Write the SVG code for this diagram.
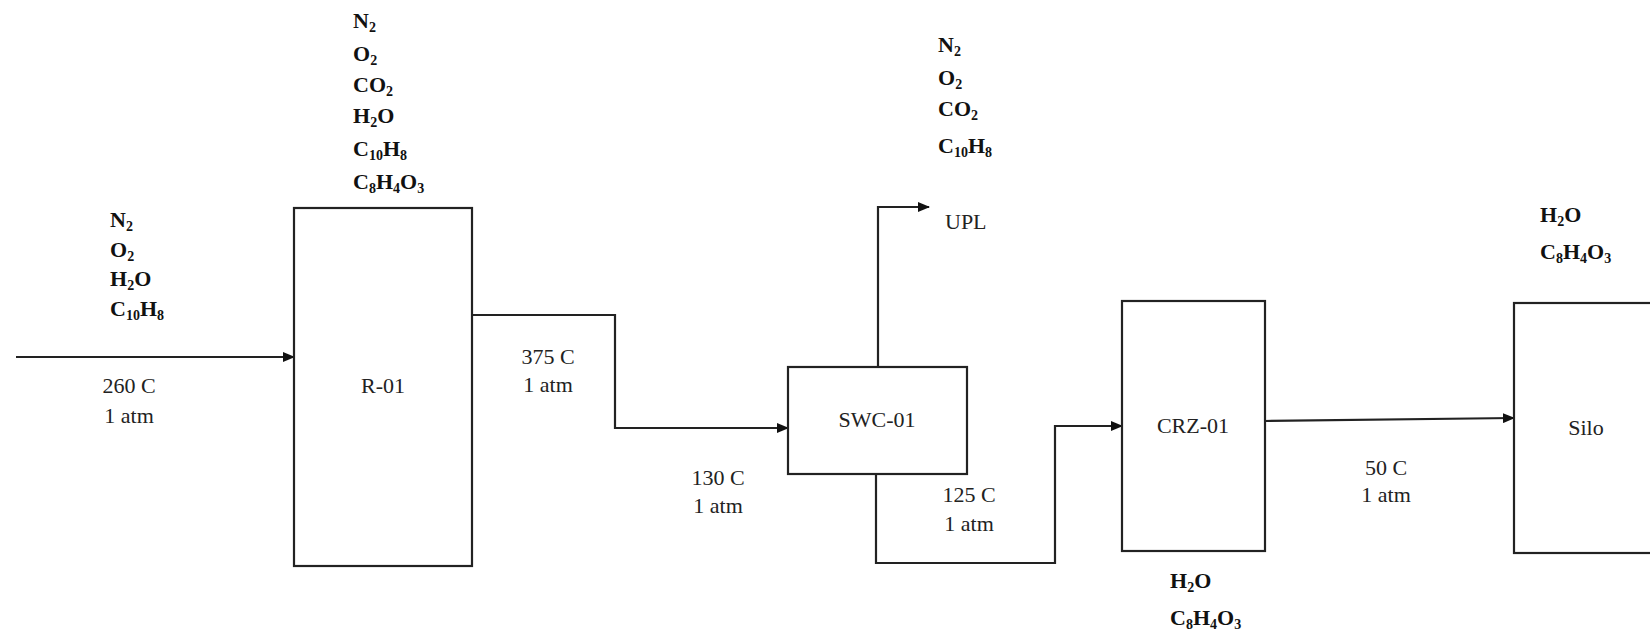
<svg xmlns="http://www.w3.org/2000/svg" width="1650" height="633" viewBox="0 0 1650 633">
<defs>
<style>
.box{fill:#fff;stroke:#222;stroke-width:2.2}
.ln{fill:none;stroke:#222;stroke-width:2.2}
.t{font-family:"Liberation Serif","Times New Roman",serif;font-size:22px;fill:#222}
.c{font-family:"Liberation Serif","Times New Roman",serif;font-size:22px;font-weight:bold;fill:#111}
.m{text-anchor:middle}
</style>
<marker id="ah" markerUnits="userSpaceOnUse" markerWidth="12" markerHeight="10" refX="11" refY="5" orient="auto">
<path d="M0,0 L12,5 L0,10 z" fill="#111"/>
</marker>
</defs>
<rect width="1650" height="633" fill="#fff"/>

<g id="connectors">
<path class="ln" d="M16,357 H294" marker-end="url(#ah)"/>
<path class="ln" d="M472,315 H615 V428 H788" marker-end="url(#ah)"/>
<path class="ln" d="M878,367 V207 H929" marker-end="url(#ah)"/>
<path class="ln" d="M876,474 V563 H1055 V426 H1122" marker-end="url(#ah)"/>
<path class="ln" d="M1265,421 L1514,418" marker-end="url(#ah)"/>
</g>

<g id="R-01">
<rect class="box" x="294" y="208" width="178" height="358"/>
<text class="t m" x="383" y="393">R-01</text>
</g>
<g id="SWC-01">
<rect class="box" x="788" y="367" width="179" height="107"/>
<text class="t m" x="877" y="427">SWC-01</text>
</g>
<g id="CRZ-01">
<rect class="box" x="1122" y="301" width="143" height="250"/>
<text class="t m" x="1193" y="433">CRZ-01</text>
</g>
<g id="Silo">
<rect class="box" x="1514" y="303" width="160" height="250"/>
<text class="t m" x="1586" y="435">Silo</text>
</g>

<g id="feed-labels">
<text class="c" x="110" y="227">N<tspan font-size="14" dy="4">2</tspan></text>
<text class="c" x="110" y="257">O<tspan font-size="14" dy="4">2</tspan></text>
<text class="c" x="110" y="286">H<tspan font-size="14" dy="4">2</tspan><tspan dy="-4">O</tspan></text>
<text class="c" x="110" y="316">C<tspan font-size="14" dy="4">10</tspan><tspan dy="-4">H</tspan><tspan font-size="14" dy="4">8</tspan></text>
<text class="t m" x="129" y="393">260 C</text>
<text class="t m" x="129" y="423">1 atm</text>
</g>

<g id="r01-out-labels">
<text class="c" x="353" y="28">N<tspan font-size="14" dy="4">2</tspan></text>
<text class="c" x="353" y="61">O<tspan font-size="14" dy="4">2</tspan></text>
<text class="c" x="353" y="92">CO<tspan font-size="14" dy="4">2</tspan></text>
<text class="c" x="353" y="123">H<tspan font-size="14" dy="4">2</tspan><tspan dy="-4">O</tspan></text>
<text class="c" x="353" y="156">C<tspan font-size="14" dy="4">10</tspan><tspan dy="-4">H</tspan><tspan font-size="14" dy="4">8</tspan></text>
<text class="c" x="353" y="189">C<tspan font-size="14" dy="4">8</tspan><tspan dy="-4">H</tspan><tspan font-size="14" dy="4">4</tspan><tspan dy="-4">O</tspan><tspan font-size="14" dy="4">3</tspan></text>
<text class="t m" x="548" y="364">375 C</text>
<text class="t m" x="548" y="392">1 atm</text>
</g>

<g id="swc-in-labels">
<text class="t m" x="718" y="485">130 C</text>
<text class="t m" x="718" y="513">1 atm</text>
</g>

<g id="upl-labels">
<text class="c" x="938" y="52">N<tspan font-size="14" dy="4">2</tspan></text>
<text class="c" x="938" y="85">O<tspan font-size="14" dy="4">2</tspan></text>
<text class="c" x="938" y="116">CO<tspan font-size="14" dy="4">2</tspan></text>
<text class="c" x="938" y="153">C<tspan font-size="14" dy="4">10</tspan><tspan dy="-4">H</tspan><tspan font-size="14" dy="4">8</tspan></text>
<text class="t" x="945" y="229">UPL</text>
</g>

<g id="swc-out-labels">
<text class="t m" x="969" y="502">125 C</text>
<text class="t m" x="969" y="531">1 atm</text>
</g>

<g id="crz-labels">
<text class="c" x="1170" y="588">H<tspan font-size="14" dy="4">2</tspan><tspan dy="-4">O</tspan></text>
<text class="c" x="1170" y="625">C<tspan font-size="14" dy="4">8</tspan><tspan dy="-4">H</tspan><tspan font-size="14" dy="4">4</tspan><tspan dy="-4">O</tspan><tspan font-size="14" dy="4">3</tspan></text>
<text class="t m" x="1386" y="475">50 C</text>
<text class="t m" x="1386" y="502">1 atm</text>
</g>

<g id="silo-labels">
<text class="c" x="1540" y="222">H<tspan font-size="14" dy="4">2</tspan><tspan dy="-4">O</tspan></text>
<text class="c" x="1540" y="259">C<tspan font-size="14" dy="4">8</tspan><tspan dy="-4">H</tspan><tspan font-size="14" dy="4">4</tspan><tspan dy="-4">O</tspan><tspan font-size="14" dy="4">3</tspan></text>
</g>
</svg>
